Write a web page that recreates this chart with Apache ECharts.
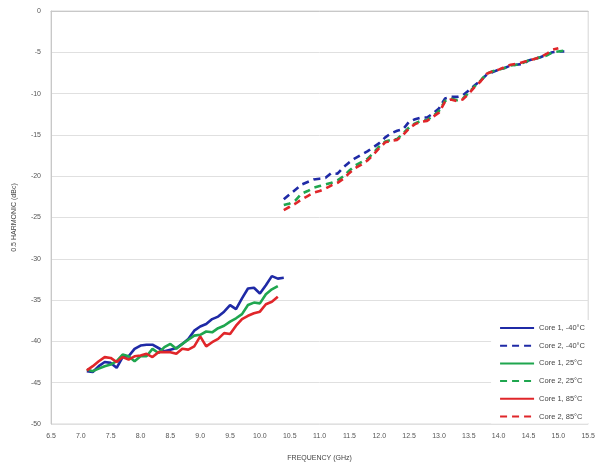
<!DOCTYPE html>
<html lang="en">
<head>
    <meta charset="UTF-8">
    <title>0.5 Harmonic vs Frequency</title>
    <script src="https://cdn.jsdelivr.net/npm/echarts@6/dist/echarts.min.js"></script>
    <style>
        html, body { margin: 0; padding: 0; background: #fff; }
    </style>
</head>
<body>
    <div id="chart" style="width: 598px; height: 467px;"></div>

    <script>
        // frequencies (GHz)
        var freqLow = [7.1, 7.2, 7.3, 7.4, 7.5, 7.6, 7.7, 7.8, 7.9, 8.0, 8.1, 8.2, 8.3, 8.4, 8.5, 8.6, 8.7,
            8.8, 8.9, 9.0, 9.1, 9.2, 9.3, 9.4, 9.5, 9.6, 9.7, 9.8, 9.9, 10.0, 10.1, 10.2, 10.3, 10.4];
        var freqHigh = [10.4, 10.5, 10.6, 10.7, 10.8, 10.9, 11.0, 11.1, 11.2, 11.3, 11.4, 11.5, 11.6, 11.7,
            11.8, 11.9, 12.0, 12.1, 12.2, 12.3, 12.4, 12.5, 12.6, 12.7, 12.8, 12.9, 13.0, 13.1, 13.2, 13.3,
            13.4, 13.5, 13.6, 13.7, 13.8, 13.9, 14.0, 14.1, 14.2, 14.3, 14.4, 14.5, 14.6, 14.7, 14.8, 14.9,
            15.0, 15.1];

        // Core 1 (solid), dBc
        var core1Minus40 = [-43.6, -43.7, -43.0, -42.5, -42.6, -43.2, -41.9, -41.8, -40.9, -40.5, -40.4, -40.4,
            -40.8, -41.2, -41.0, -40.8, -40.3, -39.7, -38.7, -38.2, -37.9, -37.3, -37.0, -36.4, -35.6, -36.1,
            -34.8, -33.6, -33.5, -34.2, -33.2, -32.1, -32.4, -32.3];
        var core1_25 = [-43.4, -43.6, -43.3, -43.0, -42.8, -42.4, -41.6, -41.8, -42.4, -41.8, -41.8, -40.9,
            -41.4, -40.7, -40.3, -40.9, -40.3, -39.8, -39.3, -39.2, -38.8, -38.9, -38.4, -38.1, -37.6, -37.2,
            -36.7, -35.6, -35.3, -35.4, -34.3, -33.7, -33.3, null];
        var core1_85 = [-43.5, -43.0, -42.4, -41.9, -42.0, -42.5, -41.9, -42.2, -41.8, -41.7, -41.5, -41.9,
            -41.3, -41.3, -41.3, -41.5, -40.9, -41.0, -40.6, -39.4, -40.6, -40.1, -39.7, -39.0, -39.1, -38.1,
            -37.3, -36.9, -36.6, -36.4, -35.5, -35.2, -34.6, null];

        // Core 2 (dashed), dBc
        var core2Minus40 = [-22.8, -22.2, -21.6, -21.0, -20.7, -20.4, -20.3, -20.2, -19.6, -19.7, -18.9, -18.3,
            -17.8, -17.4, -17.0, -16.5, -16.0, -15.3, -14.8, -14.5, -14.3, -13.4, -13.1, -12.9, -12.9, -12.4,
            -11.8, -10.6, -10.4, -10.4, -10.2, -9.6, -9.0, -8.4, -7.7, -7.4, -7.1, -6.9, -6.6, -6.5, -6.4,
            -6.0, -5.8, -5.6, -5.3, -5.0, -4.9, -4.9];
        var core2_25 = [-23.5, -23.3, -22.9, -22.1, -21.8, -21.4, -21.2, -21.0, -20.8, -20.5, -20.0, -19.3,
            -18.7, -18.3, -17.9, -17.2, -16.4, -15.8, -15.6, -15.5, -14.8, -14.1, -13.6, -13.3, -13.2, -12.7,
            -12.1, -10.9, -10.6, -10.8, -10.6, -9.9, -9.1, -8.4, -7.6, -7.3, -7.1, -6.9, -6.6, -6.5, -6.3,
            -6.0, -5.8, -5.6, -5.4, -5.0, -4.9, -4.8];
        var core2_85 = [-24.1, -23.7, -23.3, -22.8, -22.4, -22.0, -21.8, -21.5, -21.1, -20.8, -20.3, -19.6,
            -19.0, -18.6, -18.1, -17.4, -16.6, -15.9, -15.7, -15.6, -15.0, -14.2, -13.7, -13.4, -13.3, -12.8,
            -12.3, -11.0, -10.7, -10.9, -10.7, -10.0, -9.2, -8.5, -7.6, -7.3, -7.1, -6.8, -6.5, -6.4, -6.2,
            -6.0, -5.8, -5.6, -5.2, -4.7, -4.5, null];

        var names = ['Core 1, -40°C', 'Core 2, -40°C', 'Core 1, 25°C', 'Core 2, 25°C', 'Core 1, 85°C', 'Core 2, 85°C'];

        function pairs(xs, ys) {
            var out = [];
            for (var i = 0; i < xs.length; i++) {
                if (ys[i] !== null) out.push([xs[i], ys[i]]);
            }
            return out;
        }

        var BLUE = '#1f2aa6', GREEN = '#1fa64f', RED = '#e0262a';

        function line(name, data, color, dashed) {
            return {
                name: name,
                type: 'line',
                data: data,
                symbol: 'none',
                smooth: false,
                lineStyle: { color: color, width: 2.6, type: dashed ? [7, 5] : 'solid' },
                itemStyle: { color: color }
            };
        }

        var chart = echarts.init(document.getElementById('chart'));

        var option = {
            animation: false,
            textStyle: { fontFamily: 'Liberation Sans, Arial, sans-serif' },
            grid: {
                left: 51, right: 7, top: 11, bottom: 42,
                show: true, borderColor: '#d6d6d6', borderWidth: 1
            },
            legend: {
                data: names,
                orient: 'vertical',
                right: 9,
                top: 320,
                itemWidth: 34,
                itemHeight: 8,
                itemGap: 9.7,
                backgroundColor: '#fff',
                padding: [4, 4, 3, 8],
                itemStyle: { opacity: 0 },
                textStyle: { fontSize: 7.5, color: '#444' }
            },
            xAxis: {
                type: 'value',
                min: 6.5,
                max: 15.5,
                interval: 0.5,
                name: 'FREQUENCY (GHz)',
                nameLocation: 'middle',
                nameGap: 31,
                nameTextStyle: { fontSize: 7, color: '#444' },
                axisLine: { lineStyle: { color: '#c8c8c8' } },
                axisTick: { show: false },
                splitLine: { show: false },
                axisLabel: {
                    fontSize: 7, color: '#555', margin: 9,
                    formatter: function (v) { return v.toFixed(1); }
                }
            },
            yAxis: {
                type: 'value',
                min: -50,
                max: 0,
                interval: 5,
                name: '0.5 HARMONIC (dBc)',
                nameLocation: 'middle',
                nameGap: 33,
                nameTextStyle: { fontSize: 7, color: '#444' },
                axisLine: { show: true, lineStyle: { color: '#c8c8c8' } },
                axisTick: { show: false },
                splitLine: { lineStyle: { color: '#e0e0e0' } },
                axisLabel: { fontSize: 7, color: '#555', margin: 10 }
            },
            series: [
                line(names[0], pairs(freqLow, core1Minus40), BLUE, false),
                line(names[1], pairs(freqHigh, core2Minus40), BLUE, true),
                line(names[2], pairs(freqLow, core1_25), GREEN, false),
                line(names[3], pairs(freqHigh, core2_25), GREEN, true),
                line(names[4], pairs(freqLow, core1_85), RED, false),
                line(names[5], pairs(freqHigh, core2_85), RED, true)
            ]
        };

        chart.setOption(option);
    </script>
</body>
</html>
